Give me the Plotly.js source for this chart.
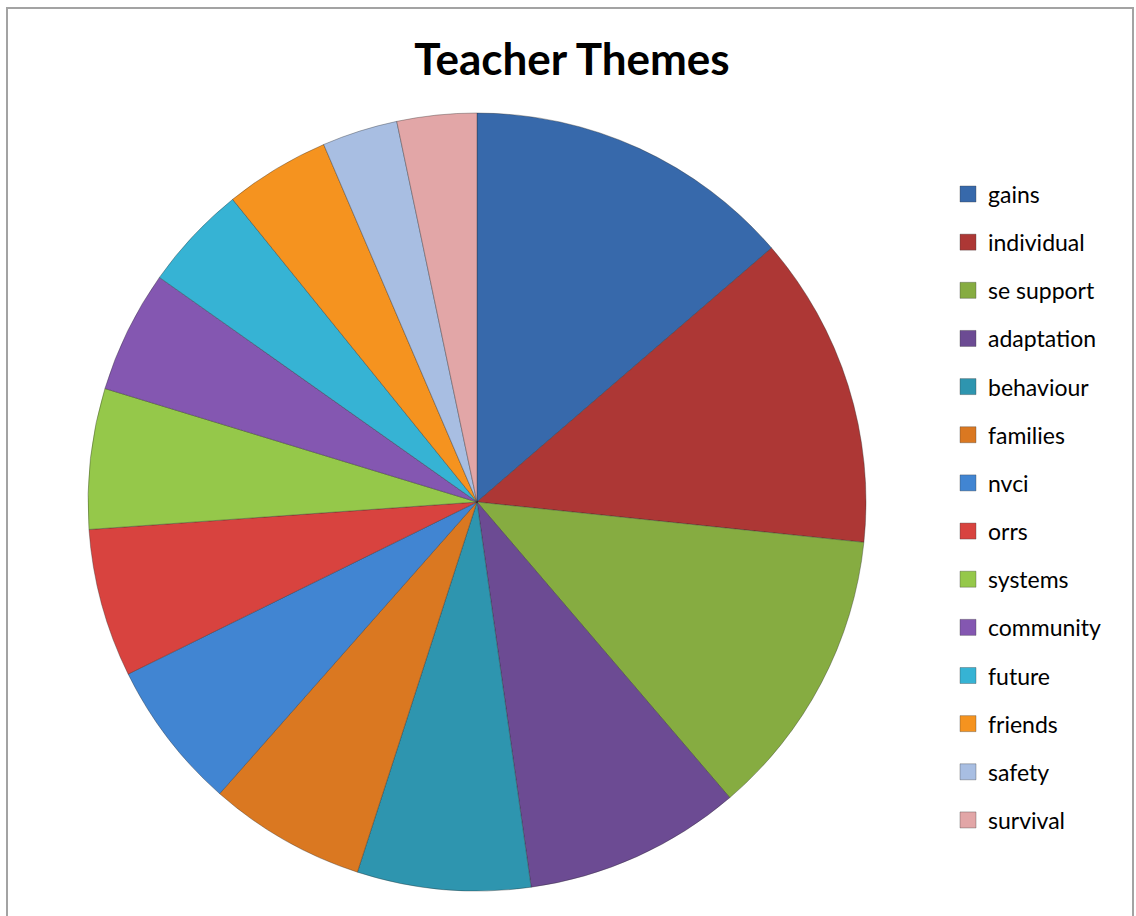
<!DOCTYPE html>
<html>
<head>
<meta charset="utf-8">
<script src="https://cdn.plot.ly/plotly-3.0.1.min.js"></script>
<style>
  html, body { margin: 0; padding: 0; background: #ffffff; }
  #chart { width: 1136px; height: 916px; }
</style>
</head>
<body>
<div id="chart"></div>
<script>
// ---- data ----
var categories = ["gains", "individual", "se support", "adaptation", "behaviour", "families",
                  "nvci", "orrs", "systems", "community", "future", "friends", "safety", "survival"];
var values = [49.2, 46.7, 43.5, 32.5, 25.9, 23.5, 22.3, 22.2, 21.0, 18.3, 15.8, 15.7, 11.3, 11.9];
var sliceColors = ["#3769AB", "#AD3735", "#86AC41", "#6C4B93", "#2E95AF", "#DA7821",
                   "#4185D2", "#D8433F", "#95C84A", "#8457B1", "#36B3D4", "#F5931F",
                   "#A8BEE2", "#E2A6A7"];
var chartTitle = "Teacher Themes";

// ---- layout helpers (pixels -> paper) ----
var W = 1136, H = 916;
function px(x) { return x / W; }
function py(y) { return 1 - y / H; }

var cx = 477, cy = 502, r = 389;

var trace = {
  type: "pie",
  labels: categories,
  values: values,
  sort: false,
  direction: "clockwise",
  rotation: 0,
  textinfo: "none",
  hoverinfo: "label+value",
  showlegend: false,
  marker: { colors: sliceColors, line: { color: "rgba(40,40,40,0.35)", width: 1 } },
  domain: { x: [px(cx - r), px(cx + r)], y: [py(cy + r), py(cy - r)] }
};

var annotations = [];
var shapes = [];

// chart-area border
shapes.push({ type: "rect", xref: "paper", yref: "paper",
  x0: px(7), x1: px(1133), y0: py(930), y1: py(8),
  line: { color: "#A3A3A3", width: 2 }, fillcolor: "rgba(0,0,0,0)", layer: "below" });

// legend built from categories
var legTop = 194, legStep = 48.15;
categories.forEach(function (name, i) {
  var yc = legTop + i * legStep;
  shapes.push({ type: "rect", xref: "paper", yref: "paper",
    x0: px(960), x1: px(976), y0: py(yc + 8), y1: py(yc - 8),
    fillcolor: sliceColors[i], line: { color: "rgba(60,60,60,0.35)", width: 1 } });
  annotations.push({ xref: "paper", yref: "paper", x: px(986), y: py(yc),
    xanchor: "left", yanchor: "middle", showarrow: false, text: name,
    font: { family: "Lato, 'Open Sans', sans-serif", size: 23, color: "#000000" } });
});

var layout = {
  width: W, height: H,
  margin: { l: 0, r: 0, t: 0, b: 0 },
  paper_bgcolor: "#ffffff",
  title: { text: "<b>" + chartTitle + "</b>", x: px(572), xanchor: "center",
           y: py(60), yanchor: "middle",
           font: { family: "Lato, 'Open Sans', sans-serif", size: 44, color: "#000000" } },
  showlegend: false,
  shapes: shapes,
  annotations: annotations
};

Plotly.newPlot("chart", [trace], layout, { displayModeBar: false, staticPlot: true });
</script>
</body>
</html>
